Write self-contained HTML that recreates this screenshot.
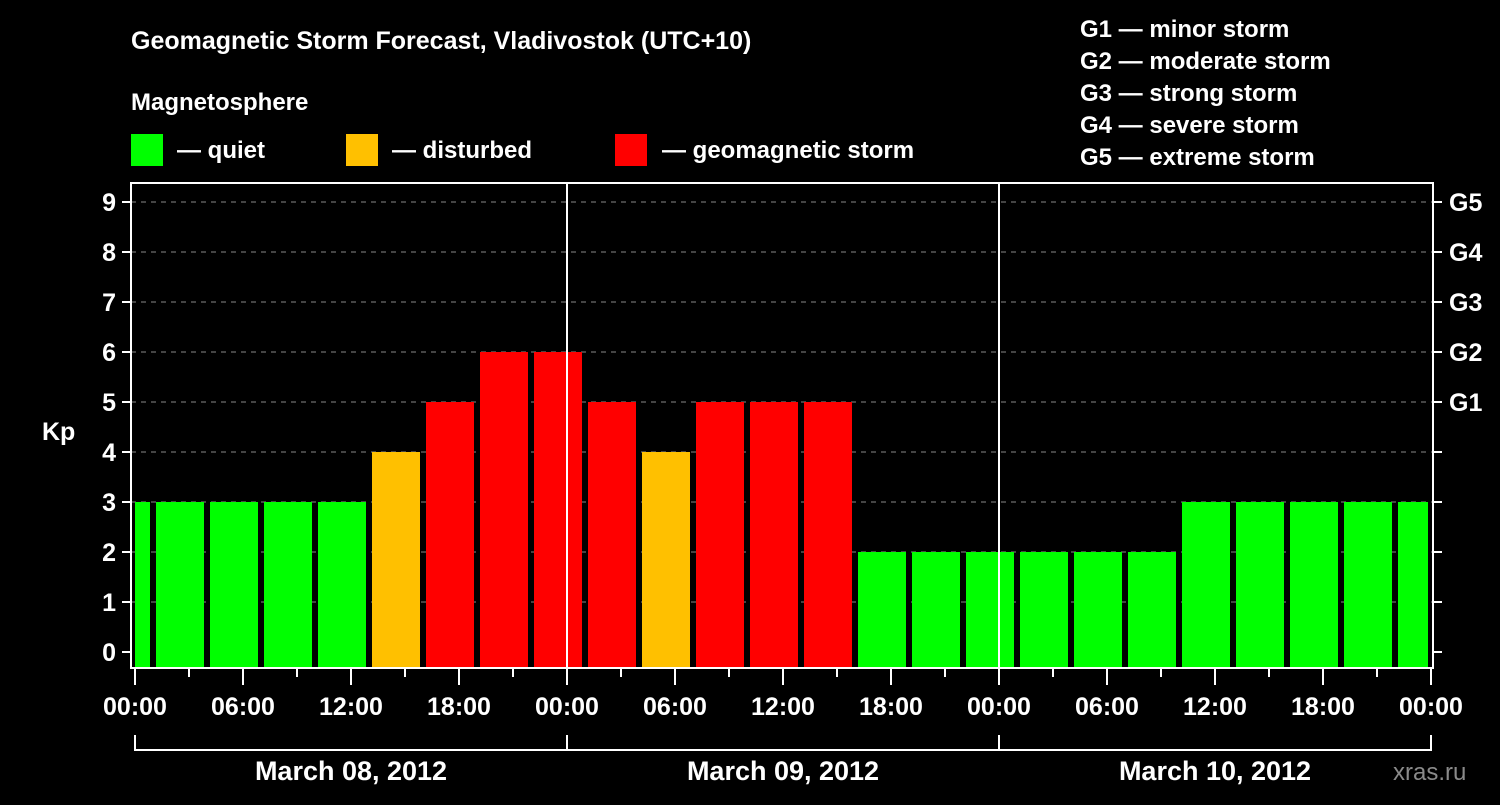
<!DOCTYPE html>
<html><head><meta charset="utf-8"><style>
body{margin:0;background:#000;width:1500px;height:800px;overflow:hidden}
svg text{font-family:"Liberation Sans",sans-serif;font-weight:bold;fill:#fff}
</style></head><body>
<svg id="c" width="1500" height="800">
<text x="131" y="49" font-size="25">Geomagnetic Storm Forecast, Vladivostok (UTC+10)</text>
<text x="131" y="110" font-size="24">Magnetosphere</text>
<g><rect x="131" y="134" width="32" height="32" fill="#00ff00"/><text x="177" y="158" font-size="24">— quiet</text></g>
<g><rect x="346" y="134" width="32" height="32" fill="#ffc000"/><text x="392" y="158" font-size="24">— disturbed</text></g>
<g><rect x="615" y="134" width="32" height="32" fill="#ff0000"/><text x="662" y="158" font-size="24">— geomagnetic storm</text></g>
<g font-size="24">
<text x="1080" y="37">G1 — minor storm</text>
<text x="1080" y="69">G2 — moderate storm</text>
<text x="1080" y="101">G3 — strong storm</text>
<text x="1080" y="133">G4 — severe storm</text>
<text x="1080" y="165">G5 — extreme storm</text>
</g>
<text x="42" y="440" font-size="25">Kp</text>
<text x="1393" y="780" font-size="24" fill="#888" style="fill:#8a8a8a;font-weight:normal">xras.ru</text>
<g id="plot"></g>
</svg>
<script>
const kpValues=[3,3,3,3,3,4,5,6,6,5,4,5,5,5,2,2,2,2,2,2,3,3,3,3,3];
const yTicks=[0,1,2,3,4,5,6,7,8,9];
const gLabels=["","","","","","G1","G2","G3","G4","G5"];
const timeLabels=["00:00","06:00","12:00","18:00","00:00","06:00","12:00","18:00","00:00","06:00","12:00","18:00","00:00"];
const dateLabels=["March 08, 2012","March 09, 2012","March 10, 2012"];
const NS="http://www.w3.org/2000/svg";
const L=131,R=1433,T=183,B=668,X0=135,PXH=18;
const xH=h=>X0+h*PXH;
const yV=v=>652-v*50;
const g=document.getElementById('plot');
function mk(t,a){const e=document.createElementNS(NS,t);for(const k in a)e.setAttribute(k,a[k]);g.appendChild(e);return e;}
yTicks.forEach(v=>{
 if(v>0){const gl=mk('line',{x1:L,x2:R,y1:yV(v),y2:yV(v),stroke:'#888','stroke-dasharray':'5,5','stroke-width':1});
 
 }
 const t=mk('line',{x1:L-9,x2:L,y1:yV(v),y2:yV(v),stroke:'#fff','stroke-width':2});
 
 
 const t2=mk('line',{x1:R,x2:R+9,y1:yV(v),y2:yV(v),stroke:'#fff','stroke-width':2});
 
 
 const lb=mk('text',{x:L-15,y:yV(v)+9,'font-size':25,'text-anchor':'end'});lb.textContent=v;
 
 
 if(gLabels[v]){const gl2=mk('text',{x:1449,y:yV(v)+9,'font-size':25});gl2.textContent=gLabels[v];
 
 }
});
kpValues.forEach((v,i)=>{
 const h0=-2+i*3,h1=h0+3;
 let x1=xH(h0)+3,x2=xH(h1)-3;
 x1=Math.max(x1,X0);x2=Math.min(x2,R-5);
 const c=v>=5?'#ff0000':v===4?'#ffc000':'#00ff00';
 const r=mk('rect',{x:x1,y:yV(v),width:x2-x1,height:B-1-yV(v),fill:c});
 
 
});
[1,2].forEach(d=>{const l=mk('line',{x1:xH(d*24),x2:xH(d*24),y1:T,y2:B,stroke:'#fff','stroke-width':2});
 
 });
const f=mk('rect',{x:L,y:T,width:R-L,height:B-T,fill:'none',stroke:'#fff','stroke-width':2});


for(let h=0;h<=72;h+=3){const maj=h%6===0;
 const t=mk('line',{x1:xH(h),x2:xH(h),y1:B,y2:B+(maj?17:9),stroke:'#fff','stroke-width':2});
 
 }
timeLabels.forEach((s,i)=>{const t=mk('text',{x:xH(i*6),y:715,'font-size':25,'text-anchor':'middle'});t.textContent=s;
 
 });
mk('line',{x1:X0,x2:xH(72),y1:750,y2:750,stroke:'#fff','stroke-width':2});
for(let d=0;d<=3;d++){const l=mk('line',{x1:xH(d*24),x2:xH(d*24),y1:735,y2:751,stroke:'#fff','stroke-width':2});
 
 }
dateLabels.forEach((s,i)=>{const t=mk('text',{x:xH(i*24+12),y:780,'font-size':27,'text-anchor':'middle'});t.textContent=s;
 
 });
</script>
</body></html>
